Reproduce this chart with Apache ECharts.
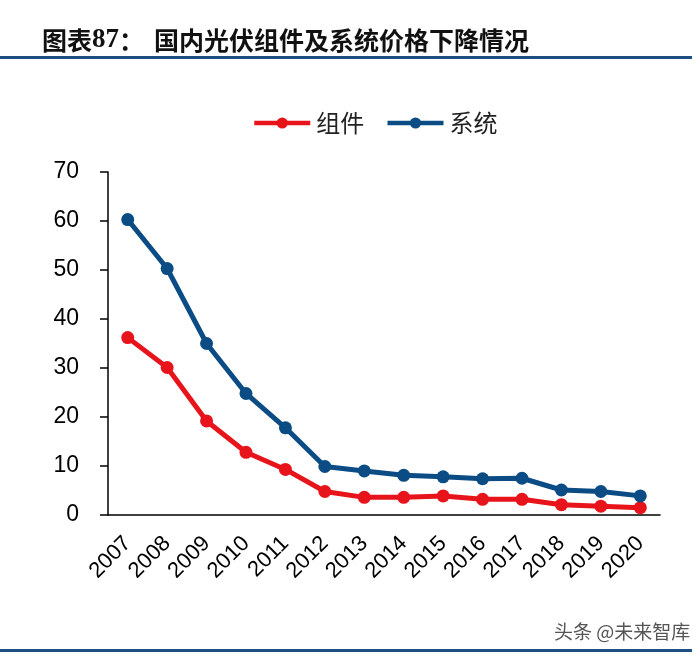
<!DOCTYPE html>
<html><head><meta charset="utf-8">
<script src="https://cdn.jsdelivr.net/npm/echarts@6/dist/echarts.min.js"></script>
<style>html,body{margin:0;padding:0;background:#fff}#c{width:700px;height:663px}</style>
</head><body><div id="c"></div>
<script>
const years = ['2007','2008','2009','2010','2011','2012','2013','2014','2015','2016','2017','2018','2019','2020'];
const moduleVals = [36.2, 30.1, 19.2, 12.8, 9.3, 4.8, 3.6, 3.6, 3.9, 3.2, 3.2, 2.1, 1.8, 1.5];
const systemVals = [60.3, 50.3, 35.0, 24.8, 17.8, 9.9, 9.0, 8.1, 7.8, 7.4, 7.5, 5.1, 4.8, 3.9];
const seriesNames = ['组件', '系统'];
const yTicks = {min: 0, max: 70, interval: 10};

const chart = echarts.init(document.getElementById('c'));
chart.setOption({
  backgroundColor: '#fff',
  animation: false,
  title: {
    text: '{a|图表}{b|87}{a|：}{c|国内光伏组件及系统价格下降情况}',
    left: 37, top: 22,
    textStyle: {
      rich: {
        a: {fontFamily: 'Noto Sans CJK SC', fontWeight: 'bold', fontSize: 25, color: '#111'},
        b: {fontFamily: 'Liberation Serif', fontWeight: 'bold', fontSize: 27, color: '#111'},
        c: {fontFamily: 'Noto Sans CJK SC', fontWeight: 'bold', fontSize: 25, color: '#111', padding: [0, 0, 0, 10]}
      }
    }
  },
  graphic: [
    {type: 'rect', shape: {x: 0, y: 56, width: 692, height: 3}, style: {fill: '#1d4f82'}},
    {type: 'rect', shape: {x: 0, y: 649, width: 692, height: 3}, style: {fill: '#1d4f82'}},
    {type: 'text', left: 554, top: 622, style: {text: '头条 @未来智库', fontFamily: 'Noto Sans CJK SC', fontSize: 19, fill: '#555'}}
  ],
  legend: {
    top: 106, left: 247,
    itemWidth: 56, itemHeight: 14, itemGap: 21,
    lineStyle: {width: 4.5},
    textStyle: {fontFamily: 'Noto Sans CJK SC', fontSize: 24, color: '#222', padding: [0, 0, 0, 1]},
    data: seriesNames
  },
  grid: {left: 108, right: 40, top: 172, bottom: 148},
  xAxis: {
    type: 'category', data: years, boundaryGap: true,
    axisLine: {lineStyle: {color: '#000', width: 1.5}},
    axisTick: {length: 8, interval: 0, lineStyle: {color: '#000', width: 1.5}},
    axisLabel: {rotate: 45, interval: 0, fontFamily: 'Liberation Sans', fontSize: 22, color: '#000', margin: 25}
  },
  yAxis: {
    type: 'value', min: yTicks.min, max: yTicks.max, interval: yTicks.interval,
    splitLine: {show: false},
    axisLine: {show: true, lineStyle: {color: '#000', width: 1.5}},
    axisTick: {show: true, length: 8, lineStyle: {color: '#000', width: 1.5}},
    axisLabel: {fontFamily: 'Liberation Sans', fontSize: 23, color: '#000', margin: 29}
  },
  series: [
    {name: seriesNames[0], type: 'line', data: moduleVals, symbol: 'circle', symbolSize: 13,
     lineStyle: {width: 5, color: '#e8141b'}, itemStyle: {color: '#e8141b'}},
    {name: seriesNames[1], type: 'line', data: systemVals, symbol: 'circle', symbolSize: 13,
     lineStyle: {width: 5, color: '#0b4c84'}, itemStyle: {color: '#0b4c84'}}
  ]
});
</script></body></html>
